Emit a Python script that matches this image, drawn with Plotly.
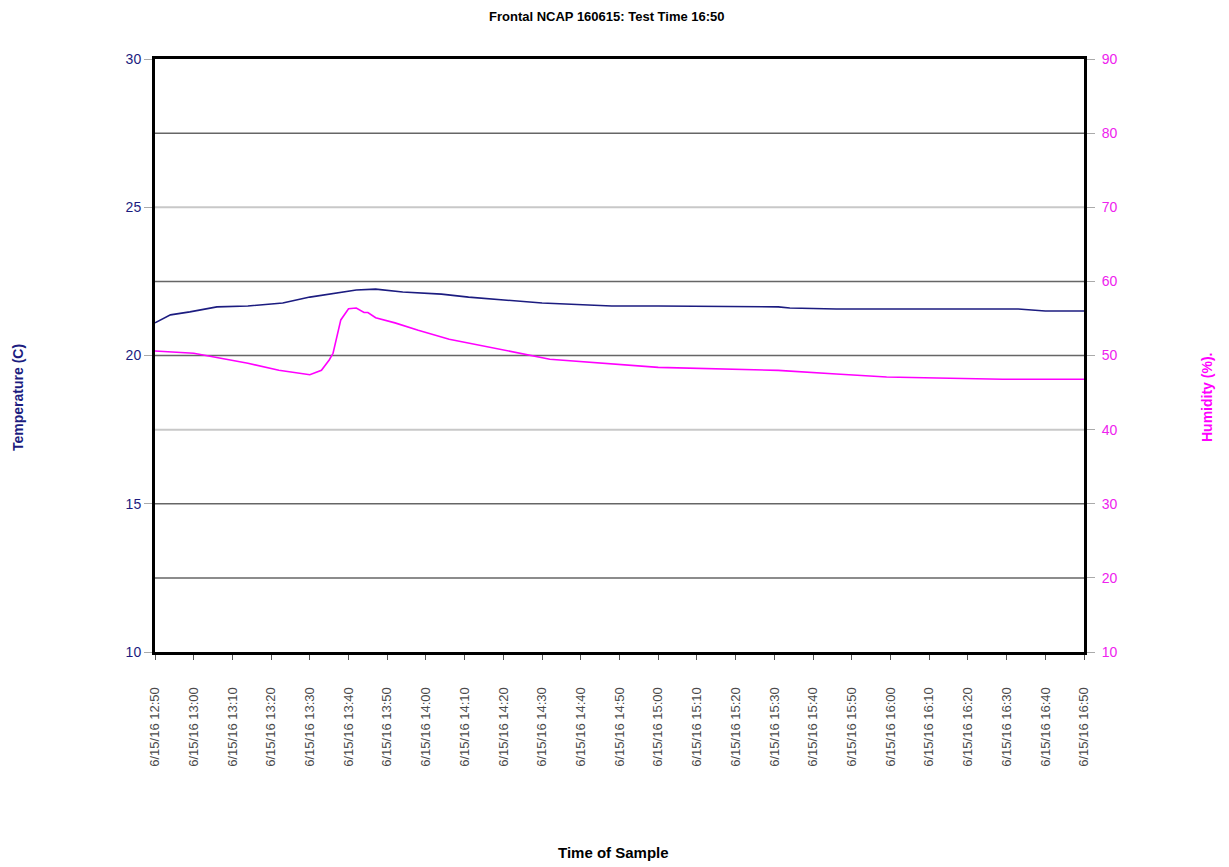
import plotly.graph_objects as go

# ---- data ----
temp_times = ["12:50", "12:54", "12:59", "13:06", "13:14", "13:23", "13:30", "13:37", "13:42",
              "13:47", "13:54", "14:04", "14:11", "14:30", "14:48", "15:00", "15:31", "15:34",
              "15:46", "16:33", "16:40", "16:50"]
temp_values = [21.10, 21.37, 21.47, 21.64, 21.67, 21.77, 21.97, 22.11, 22.21,
               22.24, 22.14, 22.07, 21.97, 21.77, 21.67, 21.67, 21.64, 21.60,
               21.57, 21.57, 21.50, 21.50]

hum_times = ["12:50", "13:00", "13:14", "13:22", "13:30", "13:33", "13:35", "13:36", "13:38",
             "13:40", "13:42", "13:44", "13:45", "13:47", "13:52", "13:58", "14:06", "14:11",
             "14:32", "15:00", "15:31", "15:46", "15:59", "16:12", "16:29", "16:50"]
hum_values = [50.6, 50.3, 48.95, 48.0, 47.4, 48.0, 49.4, 50.3, 54.8,
              56.3, 56.4, 55.8, 55.8, 55.1, 54.4, 53.4, 52.2, 51.7,
              49.5, 48.4, 48.0, 47.5, 47.1, 46.96, 46.8, 46.8]

tick_times = ["12:50", "13:00", "13:10", "13:20", "13:30", "13:40", "13:50", "14:00", "14:10",
              "14:20", "14:30", "14:40", "14:50", "15:00", "15:10", "15:20", "15:30", "15:40",
              "15:50", "16:00", "16:10", "16:20", "16:30", "16:40", "16:50"]
tick_labels = ["6/15/16 " + t for t in tick_times]

dark_grid_hum = [20, 30, 50, 60, 80]
light_grid_hum = [40, 70]

DATE = "2016-06-15 "
FONT = "Liberation Sans, Arial, sans-serif"
NAVY = "#1c1c80"
MAGENTA = "#ff00ff"

fig = go.Figure()
fig.add_trace(go.Scatter(x=[DATE + t for t in temp_times], y=temp_values, mode="lines",
                         line=dict(color=NAVY, width=1.6), name="Temperature", yaxis="y"))
fig.add_trace(go.Scatter(x=[DATE + t for t in hum_times], y=hum_values, mode="lines",
                         line=dict(color=MAGENTA, width=1.6), name="Humidity", yaxis="y2"))

OFF = 8  # page body offset
L, T = 155 - OFF, 59 - OFF
pw, ph = 929, 593
W, H = 1229, 867
R = W - L - pw
B = H - T - ph

def px_x(px):
    return (px - OFF - L) / pw

def px_y(py):
    return (T + ph - (py - OFF)) / ph

shapes = [dict(type="line", xref="paper", yref="y2", x0=0, x1=1, y0=v, y1=v,
               line=dict(color="#666666", width=1.5), layer="below") for v in dark_grid_hum]
shapes += [dict(type="line", xref="paper", yref="y2", x0=0, x1=1, y0=v, y1=v,
                line=dict(color="#c8c8c8", width=2), layer="below") for v in light_grid_hum]

fig.update_layout(
    width=W, height=H,
    margin=dict(l=L, r=R, t=T, b=B),
    paper_bgcolor="white", plot_bgcolor="white",
    showlegend=False,
    font=dict(family=FONT),
    xaxis=dict(
        type="date",
        range=[DATE + tick_times[0], DATE + tick_times[-1]],
        tickvals=[DATE + t for t in tick_times], ticktext=tick_labels,
        tickangle=-90, tickfont=dict(size=13, color="#4a4a4a", family=FONT),
        ticklabelstandoff=22,
        showgrid=False, zeroline=False,
        showline=True, linecolor="black", linewidth=3, mirror=True,
        ticks="outside", ticklen=5, tickcolor="#555555",
    ),
    yaxis=dict(
        range=[10, 30], tickvals=[10, 15, 20, 25, 30],
        tickfont=dict(size=14, color=NAVY, family=FONT),
        showgrid=False, zeroline=False,
        showline=True, linecolor="black", linewidth=3,
        ticks="outside", ticklen=8, tickcolor="#aaaaaa",
    ),
    yaxis2=dict(
        range=[10, 90], tickvals=[10, 20, 30, 40, 50, 60, 70, 80, 90],
        overlaying="y", side="right",
        tickfont=dict(size=14, color="#ee22ee", family=FONT),
        ticklabelstandoff=4,
        showgrid=False, zeroline=False,
        showline=True, linecolor="black", linewidth=3,
        ticks="outside", ticklen=8, tickcolor="#aaaaaa",
    ),
    shapes=shapes,
    annotations=[
        dict(text="<b>Frontal NCAP 160615: Test Time 16:50</b>", xref="paper", yref="paper",
             x=px_x(607), y=px_y(17), xanchor="center", yanchor="middle",
             showarrow=False, font=dict(size=13, color="black")),
        dict(text="<b>Temperature (C)</b>", xref="paper", yref="paper",
             x=px_x(18), y=px_y(398), xanchor="center", yanchor="middle",
             textangle=-90, showarrow=False, font=dict(size=14, color=NAVY)),
        dict(text="<b>Humidity (%).</b>", xref="paper", yref="paper",
             x=px_x(1207), y=px_y(398), xanchor="center", yanchor="middle",
             textangle=-90, showarrow=False, font=dict(size=14, color=MAGENTA)),
        dict(text="<b>Time of Sample</b>", xref="paper", yref="paper",
             x=px_x(613), y=px_y(852), xanchor="center", yanchor="middle",
             showarrow=False, font=dict(size=15, color="black")),
    ],
)

fig.write_html("out.html")
